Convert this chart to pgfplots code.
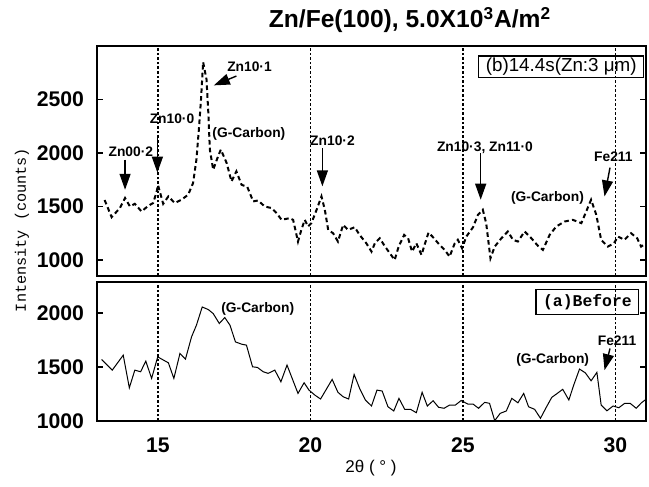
\documentclass[border=0pt]{standalone}
\usepackage{fontspec}
\setmainfont{Liberation Sans}
\newfontfamily\monofont{Liberation Mono}
\usepackage{pgfplots}
\usepackage{pgfplotstable}
\pgfplotsset{compat=1.18}
\usetikzlibrary{arrows.meta}

% (b) 14.4 s deposit
\pgfplotstableread{
x y
13.25 1560
13.48 1400
13.75 1485
13.92 1579
14.08 1500
14.24 1525
14.46 1453
14.68 1506
14.84 1532
14.95 1631
15.00 1700
15.17 1525
15.34 1594
15.55 1532
15.77 1563
15.99 1610
16.15 1719
16.26 1938
16.34 2219
16.41 2500
16.48 2850
16.59 2688
16.65 2376
16.70 2032
16.81 1844
16.97 1969
17.06 2032
17.25 1907
17.41 1734
17.57 1828
17.74 1703
17.93 1682
18.12 1547
18.28 1556
18.50 1500
18.72 1485
18.89 1438
19.05 1375
19.32 1391
19.43 1375
19.59 1172
19.70 1281
19.81 1375
19.92 1313
20.03 1344
20.20 1469
20.36 1594
20.47 1469
20.58 1281
20.74 1250
20.90 1172
21.07 1328
21.23 1281
21.45 1306
21.61 1234
21.83 1156
22.00 1078
22.11 1156
22.27 1203
22.43 1131
22.60 1063
22.76 1000
22.89 1125
23.07 1234
23.20 1203
23.33 1078
23.47 1156
23.64 1047
23.74 1141
23.87 1256
24.05 1203
24.23 1141
24.40 1094
24.56 1031
24.73 1156
24.83 1188
24.97 1109
25.11 1219
25.33 1306
25.49 1422
25.65 1469
25.76 1344
25.90 1016
26.04 1125
26.26 1203
26.47 1266
26.64 1188
26.80 1172
27.02 1266
27.24 1203
27.46 1131
27.62 1094
27.84 1234
28.06 1313
28.33 1359
28.60 1375
28.88 1344
29.04 1453
29.20 1563
29.37 1422
29.53 1188
29.75 1125
29.95 1156
30.08 1219
30.29 1188
30.51 1250
30.71 1203
30.84 1125
31.00 1156
}\tabB

% (a) before
\pgfplotstableread{
x y
13.15 1571
13.50 1472
13.86 1611
14.06 1308
14.24 1472
14.43 1457
14.60 1556
14.79 1395
14.99 1595
15.34 1540
15.52 1395
15.72 1627
15.90 1574
16.10 1781
16.26 1889
16.45 2058
16.65 2034
16.81 1997
17.01 1905
17.19 1960
17.36 1889
17.54 1734
17.74 1713
17.90 1704
18.10 1503
18.26 1497
18.45 1457
18.61 1442
18.83 1472
19.03 1364
19.23 1519
19.59 1256
19.79 1355
19.95 1287
20.14 1241
20.33 1204
20.71 1386
20.90 1266
21.07 1225
21.25 1204
21.43 1432
21.61 1303
21.80 1195
22.00 1139
22.18 1287
22.35 1278
22.54 1132
22.73 1093
22.90 1210
23.09 1108
23.28 1108
23.47 1077
23.66 1266
23.83 1139
24.02 1188
24.20 1127
24.38 1118
24.56 1148
24.75 1148
24.94 1190
25.16 1157
25.33 1157
25.51 1118
25.71 1173
25.87 1164
26.04 1003
26.22 1071
26.42 1093
26.60 1210
26.80 1169
26.99 1256
27.15 1132
27.35 1108
27.54 1025
27.73 1127
27.91 1219
28.09 1256
28.27 1294
28.47 1195
28.63 1333
28.82 1482
29.01 1447
29.20 1373
29.39 1451
29.53 1148
29.72 1095
29.92 1139
30.11 1123
30.30 1164
30.48 1164
30.68 1118
30.85 1169
31.00 1201
}\tabA

\newcommand\ann{\bfseries\fontsize{6.9}{8}\selectfont}
\tikzset{ar/.style={line width=0.7pt, -{Triangle[length=8pt,width=5.5pt]}}}

\begin{document}
\begin{tikzpicture}
\useasboundingbox (0,0) rectangle (324.5pt,243.5pt);
\pgfplotsset{
  panel/.style={
    scale only axis, width=274.5pt, anchor=south west,
    xmin=13, xmax=31, xtick={15,20,25,30},
    xmajorgrids, grid style={black, line width=0.65pt, dash pattern=on 1.3pt off 1pt},
    xtick style={draw=none},
    ytick style={black, line width=0.8pt},
    tick align=inside, major tick length=3pt,
    axis line style={line width=0.9pt},
    ticklabel style={font=\bfseries\fontsize{10.6}{12}\selectfont},
    yticklabel style={xshift=-3pt},
    /pgf/number format/assume math mode=true,
    /pgf/number format/1000 sep={},
    scaled y ticks=false,
  },
}

% top panel (b)
\begin{axis}[panel, at={(48.5pt,105.5pt)}, height=115pt,
  ymin=850, ymax=3000, ytick={1000,1500,2000,2500}, xticklabels={}]
\addplot[black, line width=1pt, dash pattern=on 2.3pt off 1.6pt] table[x=x,y=y] {\tabB};
\draw[line width=0.8pt] (axis cs:25.51,2704) rectangle (axis cs:30.92,2907);
\node[font=\fontsize{9.4}{10}\selectfont] at (axis cs:28.22,2805) {(b)14.4s(Zn:3 μm)};
\node[font=\ann] at (axis cs:14.11,2013) {Zn00·2};
\draw[ar] (axis cs:13.92,1938) -- (axis cs:13.92,1656);
\node[font=\ann] at (axis cs:15.46,2323) {Zn10·0};
\draw[ar] (axis cs:14.98,2144) -- (axis cs:14.98,1816);
\node[font=\ann] at (axis cs:18.0,2804) {Zn10·1};
\draw[ar] (axis cs:17.57,2719) -- (axis cs:16.83,2632);
\node[font=\ann] at (axis cs:17.98,2182) {(G-Carbon)};
\node[font=\ann] at (axis cs:20.72,2110) {Zn10·2};
\draw[ar] (axis cs:20.39,2048) -- (axis cs:20.39,1688);
\node[font=\ann] at (axis cs:25.72,2048) {Zn10·3, Zn11·0};
\draw[ar] (axis cs:25.58,2000) -- (axis cs:25.58,1563);
\node[font=\ann] at (axis cs:29.93,1969) {Fe211};
\draw[ar] (axis cs:29.82,1863) -- (axis cs:29.64,1594);
\node[font=\ann] at (axis cs:27.77,1579) {(G-Carbon)};
\end{axis}

% bottom panel (a)
\begin{axis}[panel, at={(48.5pt,33pt)}, height=69.5pt,
  ymin=1000, ymax=2290, ytick={1000,1500,2000},
  xticklabel style={yshift=-5pt}]
\addplot[black, line width=0.5pt] table[x=x,y=y] {\tabA};
\draw[line width=0.8pt] (axis cs:27.40,1988) rectangle (axis cs:30.76,2222);
\node[font=\monofont\bfseries\fontsize{8.2}{9}\selectfont] at (axis cs:29.08,2105) {(a)Before};
\node[font=\ann] at (axis cs:18.27,2037) {(G-Carbon)};
\node[font=\ann] at (axis cs:30.05,1744) {Fe211};
\draw[ar] (axis cs:29.82,1673) -- (axis cs:29.64,1472);
\node[font=\ann] at (axis cs:27.94,1565) {(G-Carbon)};
\end{axis}

\node[font=\bfseries\fontsize{12.3}{14}\selectfont] at (205pt,233.5pt) {Zn/Fe(100), 5.0X10\textsuperscript{3}A/m\textsuperscript{2}};
\node[rotate=90, font=\monofont\fontsize{7.6}{9}\selectfont] at (11pt,128.5pt) {Intensity (counts)};
\node[font=\fontsize{8.5}{10}\selectfont] at (185.5pt,9.5pt) {2θ ( ° )};
\end{tikzpicture}
\end{document}
